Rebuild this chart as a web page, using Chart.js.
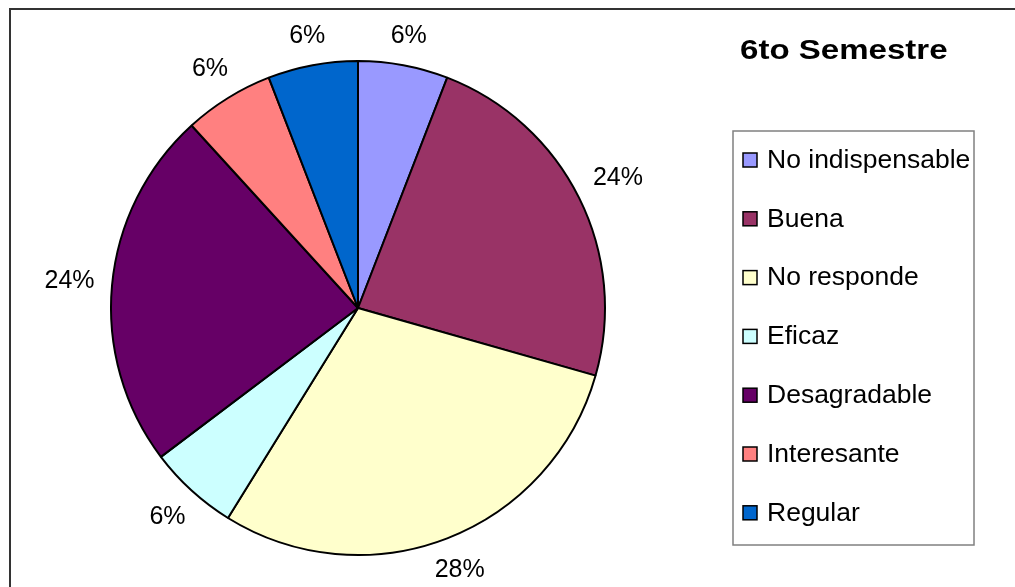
<!DOCTYPE html>
<html>
<head>
<meta charset="utf-8">
<title>6to Semestre</title>
<script src="https://cdn.jsdelivr.net/npm/chart.js@4/dist/chart.umd.min.js"></script>
<style>
  html, body { margin: 0; padding: 0; background: #fff; }
  #chart { display: block; }
</style>
</head>
<body>
<canvas id="chart" width="1015" height="587"></canvas>
<script>
// Chart data
const chartTitle = '6to Semestre';
const categories = ['No indispensable', 'Buena', 'No responde', 'Eficaz', 'Desagradable', 'Interesante', 'Regular'];
const responses = [1, 4, 5, 1, 4, 1, 1];
// percentage labels as printed on the chart
const pctLabels = ['6%', '24%', '28%', '6%', '24%', '6%', '6%'];
const sliceColors = ['#9999FF', '#993366', '#FFFFCC', '#CCFFFF', '#660066', '#FF8080', '#0066CC'];

// Draw text stretched horizontally (the original renders fonts a bit wide)
function stretchText(ctx, text, x, y, stretch) {
  ctx.save();
  ctx.translate(x, y);
  ctx.scale(stretch, 1);
  ctx.fillText(text, 0, 0);
  ctx.restore();
}

// Plugin for frame, title, legend box and percentage labels
const decorations = {
  id: 'decorations',
  afterDraw(chart) {
    const ctx = chart.ctx;
    ctx.save();

    // outer frame (runs off the right and bottom edge)
    ctx.strokeStyle = '#333333';
    ctx.lineWidth = 2;
    ctx.beginPath();
    ctx.moveTo(10, 600);
    ctx.lineTo(10, 9);
    ctx.lineTo(1030, 9);
    ctx.stroke();

    // title
    ctx.fillStyle = '#000';
    ctx.font = 'bold 28px "Liberation Sans", Arial, sans-serif';
    ctx.textBaseline = 'alphabetic';
    ctx.textAlign = 'left';
    stretchText(ctx, chartTitle, 740, 59, 1.18);

    // legend box
    ctx.strokeStyle = '#808080';
    ctx.lineWidth = 1.5;
    ctx.strokeRect(733, 131, 241, 414);

    ctx.font = '25px "Liberation Sans", Arial, sans-serif';
    ctx.textBaseline = 'middle';
    categories.forEach((name, i) => {
      const rowY = 160 + i * 58.8;
      ctx.fillStyle = sliceColors[i];
      ctx.fillRect(743, rowY - 7, 14, 14);
      ctx.strokeStyle = '#000';
      ctx.lineWidth = 1.5;
      ctx.strokeRect(743, rowY - 7, 14, 14);
      ctx.fillStyle = '#000';
      stretchText(ctx, name, 767, rowY + 1, 1.06);
    });

    // percentage labels outside each slice, box kept clear of the rim
    const meta = chart.getDatasetMeta(0);
    ctx.font = '25px "Liberation Sans", Arial, sans-serif';
    ctx.textAlign = 'center';
    ctx.textBaseline = 'middle';
    meta.data.forEach((arc, i) => {
      const p = arc.getProps(['x', 'y', 'startAngle', 'endAngle', 'outerRadius'], true);
      const mid = (p.startAngle + p.endAngle) / 2;
      const w = ctx.measureText(pctLabels[i]).width;
      const h = 18;
      const dist = p.outerRadius + 17 + Math.abs(Math.cos(mid)) * w / 2 + Math.abs(Math.sin(mid)) * h / 2;
      const lx = p.x + Math.cos(mid) * dist;
      const ly = p.y + Math.sin(mid) * dist;
      ctx.fillText(pctLabels[i], lx, ly);
    });

    ctx.restore();
  }
};

const ctx = document.getElementById('chart').getContext('2d');
new Chart(ctx, {
  type: 'pie',
  data: {
    labels: categories,
    datasets: [{
      data: responses,
      backgroundColor: sliceColors,
      borderColor: '#000',
      borderWidth: 2
    }]
  },
  options: {
    responsive: false,
    animation: false,
    layout: {
      padding: { left: 110, right: 409, top: 60, bottom: 31 }
    },
    plugins: {
      legend: { display: false },
      tooltip: { enabled: false },
      title: { display: false }
    }
  },
  plugins: [decorations]
});
</script>
</body>
</html>
